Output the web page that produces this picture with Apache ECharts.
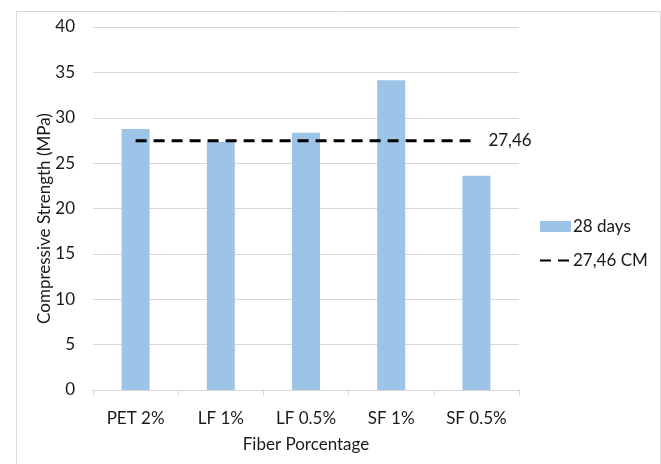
<!DOCTYPE html>
<html>
<head>
<meta charset="utf-8">
<script src="https://cdn.jsdelivr.net/npm/echarts@6/dist/echarts.min.js"></script>
<style>html,body{margin:0;padding:0;background:#fff}#c{width:661px;height:464px}</style>
</head>
<body>
<div id="c"></div>
<script>
var categories = ['PET 2%', 'LF 1%', 'LF 0.5%', 'SF 1%', 'SF 0.5%'];
var strength28 = [28.77, 27.33, 28.35, 34.12, 23.62];
var controlMean = [27.46, 27.46, 27.46, 27.46, 27.46];
var yTicks = {min: 0, max: 40, interval: 5};

var font = 'Lato';
var txt = '#1a1a1a';
var fs = 17;
var chart = echarts.init(document.getElementById('c'));
chart.setOption({
  animation: false,
  textStyle: {fontFamily: font},
  graphic: [{
    type: 'rect', left: 14, top: 9, silent: true,
    shape: {width: 644, height: 470},
    style: {fill: 'none', stroke: '#d9d9d9', lineWidth: 1}
  }],
  grid: {left: 93, right: 142, top: 27, bottom: 74, containLabel: false},
  legend: {
    orient: 'vertical', left: 539, top: 218,
    itemWidth: 31, itemHeight: 11, itemGap: 17,
    padding: 0,
    textStyle: {fontFamily: font, fontSize: fs, color: txt, padding: [0, 0, 0, -3]},
    data: [
      {name: '28 days', icon: 'rect'},
      {name: '27,46 CM', itemStyle: {color: 'rgba(0,0,0,0)', borderWidth: 0, borderColor: 'rgba(0,0,0,0)'}}
    ]
  },
  xAxis: {
    type: 'category', data: categories,
    name: 'Fiber Porcentage', nameLocation: 'middle', nameGap: 46,
    nameMoveOverlap: false,
    nameTextStyle: {fontFamily: font, fontSize: fs, color: txt},
    axisLine: {lineStyle: {color: '#d9d9d9', width: 1}},
    axisTick: {show: true, length: 6, lineStyle: {color: '#d9d9d9'}},
    axisLabel: {fontFamily: font, fontSize: fs, color: txt, margin: 20}
  },
  yAxis: {
    type: 'value', min: yTicks.min, max: yTicks.max, interval: yTicks.interval,
    name: 'Compressive Strength (MPa)', nameLocation: 'middle', nameGap: 40,
    nameMoveOverlap: false,
    nameTextStyle: {fontFamily: font, fontSize: fs, color: txt, padding: [0, 20, 0, 0]},
    axisLine: {show: false}, axisTick: {show: false},
    axisLabel: {fontFamily: font, fontSize: fs, color: txt, margin: 18},
    splitLine: {lineStyle: {color: '#d9d9d9', width: 1}}
  },
  series: [{
    name: '28 days', type: 'bar', data: strength28,
    barWidth: 28,
    itemStyle: {color: '#9dc3e6'}
  }, {
    name: '27,46 CM', type: 'line', data: controlMean,
    symbol: 'none',
    lineStyle: {color: '#000', width: 3, type: [11, 7]},
    itemStyle: {color: '#000'},
    endLabel: {show: true, formatter: '27,46', fontFamily: font, fontSize: fs, color: txt, distance: 12},
    z: 3
  }]
});
</script>
</body>
</html>
